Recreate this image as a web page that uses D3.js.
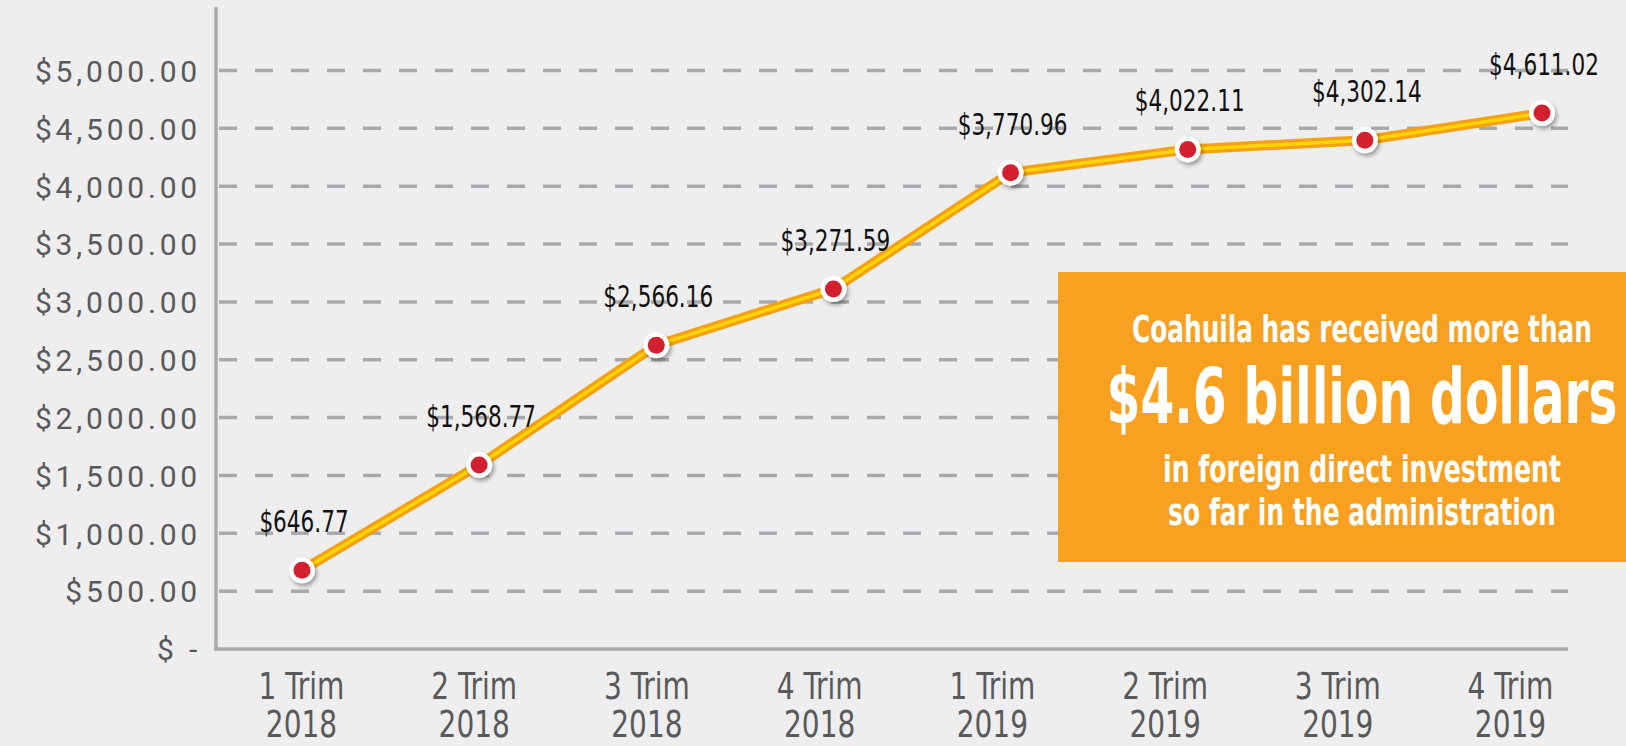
<!DOCTYPE html>
<html><head><meta charset="utf-8">
<script src="https://cdn.jsdelivr.net/npm/d3@7"></script>
<style>
html,body{margin:0;padding:0;background:#eeeeee;}
svg{display:block;}
</style></head><body>
<svg id="chart" width="1626" height="746"></svg>
<script>
// ---- data ----
const quarters = ["1 Trim","2 Trim","3 Trim","4 Trim","1 Trim","2 Trim","3 Trim","4 Trim"];
const years = ["2018","2018","2018","2018","2019","2019","2019","2019"];
const values = [680, 1590, 2626, 3111, 4117, 4318, 4397, 4632];
const valueLabels = ["$646.77","$1,568.77","$2,566.16","$3,271.59","$3,770.96","$4,022.11","$4,302.14","$4,611.02"];
const yTicks = [0,500,1000,1500,2000,2500,3000,3500,4000,4500,5000];
const yTickLabels = ["$ -","$500.00","$1,000.00","$1,500.00","$2,000.00","$2,500.00","$3,000.00","$3,500.00","$4,000.00","$4,500.00","$5,000.00"];
const calloutLines = ["Coahuila has received more than","$4.6 billion dollars","in foreign direct investment","so far in the administration"];

const categories = quarters.map((q,i)=>q+" "+years[i]);

const svg = d3.select("#chart");
const W = 1626, H = 746;
svg.append("rect").attr("width",W).attr("height",H).attr("fill","#eeeeee");

const y = d3.scaleLinear().domain([0,5000]).range([649,70.5]);
const xMark = d3.scalePoint().domain(categories).range([302,1542]);
const xLab = d3.scalePoint().domain(categories).range([301,1510]);
const axisLeftX = 216, axisRightX = 1568;

const defs = svg.append("defs");
const f = defs.append("filter").attr("id","shadow").attr("x","-50%").attr("y","-50%").attr("width","200%").attr("height","200%");
f.append("feDropShadow").attr("dx",2).attr("dy",3).attr("stdDeviation",2.2).attr("flood-color","#000").attr("flood-opacity",0.35);

const condensed = "'Liberation Sans Narrow','DejaVu Sans Condensed','Arial Narrow',sans-serif";

// gridlines
svg.append("g").selectAll("line").data(yTicks.filter(d=>d>0)).join("line")
  .attr("x1",axisLeftX+3).attr("x2",axisRightX)
  .attr("y1",d=>y(d)).attr("y2",d=>y(d))
  .attr("stroke","#a7a9ac").attr("stroke-width",3.5).attr("stroke-dasharray","18 18");

// y axis
const yAxis = d3.axisLeft(y).tickValues(yTicks).tickFormat((d,i)=>yTickLabels[i]).tickSize(0).tickPadding(0);
const gy = svg.append("g").attr("transform",`translate(${axisLeftX-15},0)`).call(yAxis);
gy.select(".domain").remove();
gy.selectAll("text")
  .attr("font-family","Roboto, 'Open Sans', sans-serif")
  .attr("font-size",30).attr("fill","#58595b").attr("letter-spacing","3.8px")
  .attr("dy","0.36em");

// axis lines
svg.append("line").attr("x1",axisLeftX).attr("x2",axisLeftX).attr("y1",7).attr("y2",y(0)+1.5)
  .attr("stroke","#a7a9ac").attr("stroke-width",3.5);
svg.append("line").attr("x1",axisLeftX-1.75).attr("x2",axisRightX).attr("y1",y(0)).attr("y2",y(0))
  .attr("stroke","#a7a9ac").attr("stroke-width",3.5);

// x axis labels
const xAxis = d3.axisBottom(xLab).tickSize(0).tickFormat(()=> "");
const gx = svg.append("g").attr("transform",`translate(0,${y(0)})`).call(xAxis);
gx.select(".domain").remove();
gx.selectAll(".tick text").remove();
const tickText = gx.selectAll(".tick").append("text")
  .attr("text-anchor","middle").attr("font-family",condensed)
  .attr("font-size",38).attr("fill","#58595b")
  .attr("transform","scale(0.82,1)");
tickText.append("tspan").attr("x",0).attr("y",50).text(d=>quarters[categories.indexOf(d)]);
tickText.append("tspan").attr("x",0).attr("y",88).text(d=>years[categories.indexOf(d)]);

// line
const line = d3.line().x((d,i)=>xMark(categories[i])).y(d=>y(d));
svg.append("path").datum(values).attr("d",line).attr("fill","none")
  .attr("stroke","#f5a015").attr("stroke-width",10).attr("stroke-linejoin","round");
svg.append("path").datum(values).attr("d",line).attr("fill","none")
  .attr("stroke","#ffd400").attr("stroke-width",3.5).attr("stroke-linejoin","round");

// points
const pts = svg.append("g").selectAll("g").data(values).join("g")
  .attr("transform",(d,i)=>`translate(${xMark(categories[i])},${y(d)})`);
pts.append("circle").attr("r",13).attr("fill","#ffffff").attr("filter","url(#shadow)");
pts.append("circle").attr("r",8.5).attr("fill","#d2202f");

// value labels
svg.append("g").selectAll("text").data(values).join("text")
  .attr("transform",(d,i)=>`translate(${xMark(categories[i])+2},${y(d)-38}) scale(0.8,1)`)
  .attr("text-anchor","middle").attr("font-family",condensed)
  .attr("font-size",30).attr("fill","#111111")
  .text((d,i)=>valueLabels[i]);

// callout box
svg.append("rect").attr("x",1058).attr("y",272).attr("width",W-1058).attr("height",290).attr("fill","#f8a01f");
const callout = [
  {t:calloutLines[0], y:341.5, size:38, w:460},
  {t:calloutLines[1], y:423, size:76, w:511},
  {t:calloutLines[2], y:481.5, size:38, w:398},
  {t:calloutLines[3], y:525, size:38, w:388}
];
svg.append("g").selectAll("text").data(callout).join("text")
  .attr("x",0).attr("y",0).attr("text-anchor","middle")
  .attr("font-family",condensed).attr("font-weight","bold")
  .attr("font-size",d=>d.size).attr("fill","#ffffff")
  .text(d=>d.t)
  .each(function(d){
    const nat = this.getComputedTextLength();
    const sx = d.w / nat;
    d3.select(this).attr("transform",`translate(1362,${d.y}) scale(${sx},1)`);
  });
</script>
</body></html>
